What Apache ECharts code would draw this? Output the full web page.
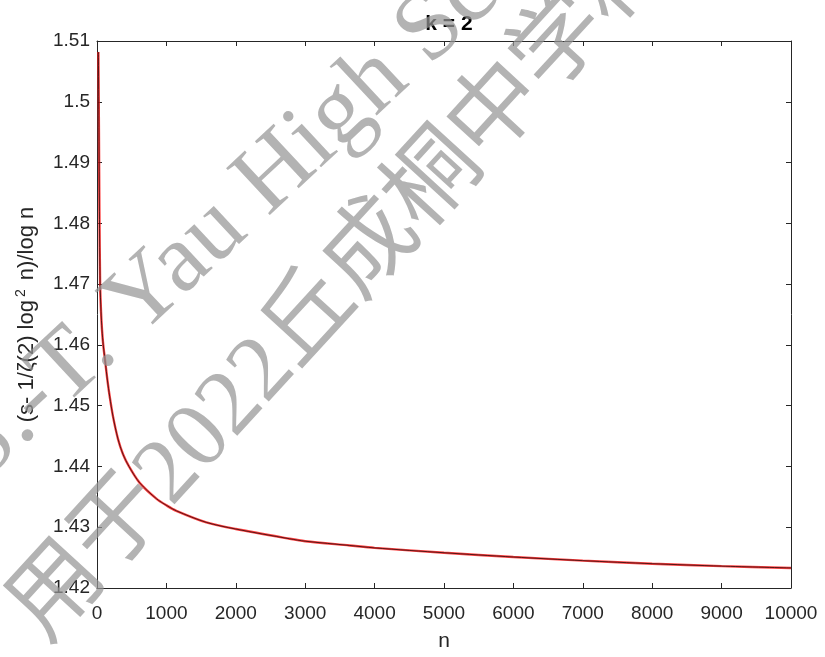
<!DOCTYPE html>
<html>
<head>
<meta charset="utf-8">
<script src="https://cdn.jsdelivr.net/npm/echarts@6/dist/echarts.min.js"></script>
<style>
html,body{margin:0;padding:0;background:#fff;}
#chart{width:825px;height:657px;}
</style>
</head>
<body>
<div id="chart"></div>
<script>
// Data
const nValues = [20, 28, 35, 45, 58, 72, 90, 121, 150, 183, 231, 303, 375, 461, 615, 855, 1000, 1143, 1575, 2000, 2775, 3000, 3640, 4000, 5000, 6000, 7000, 8000, 9000, 10000];
const ratioValues = [1.5082, 1.495, 1.482, 1.470, 1.4655, 1.4625, 1.4600, 1.4570, 1.4542, 1.4515, 1.4482, 1.4445, 1.4420, 1.4400, 1.4373, 1.4347, 1.4336, 1.4327, 1.4308, 1.4297, 1.4281, 1.4277, 1.4270, 1.4266, 1.4258, 1.4251, 1.4245, 1.4240, 1.4236, 1.4233];
const titleText = 'k = 2';
const xName = 'n';
const yName = '(s- 1/\u03b6(2) log{sup|2} n)/log n';
const watermark1 = 'S.-T. Yau High School Science Award';
const watermark2 = '\u7528\u4e8e2022\u4e18\u6210\u6850\u4e2d\u5b66\u79d1\u5b66\u5956';

const seriesData = nValues.map((n, i) => [n, ratioValues[i]]);

const chart = echarts.init(document.getElementById('chart'), null, {renderer: 'canvas'});
const axisColor = '#262626';
const font = "'Liberation Sans', Arial, sans-serif";
const wmFill = 'rgba(150,150,150,0.72)';
const ang = 43 * Math.PI / 180;
const ang2 = 47.5 * Math.PI / 180;

const option = {
  backgroundColor: '#ffffff',
  animation: false,
  title: {
    text: titleText, left: 444, top: 9, textAlign: 'center',
    textStyle: {fontFamily: font, fontSize: 21, fontWeight: 'bold', color: '#000'}
  },
  grid: {left: 97, right: 34, top: 41, bottom: 69, containLabel: false},
  xAxis: [{
    type: 'value', min: 0, max: 10000, interval: 1000,
    name: xName, nameLocation: 'middle', nameGap: 43,
    nameTextStyle: {fontFamily: font, fontSize: 21, color: axisColor},
    axisLine: {show: true, onZero: false, lineStyle: {color: axisColor, width: 1}},
    axisTick: {show: true, inside: true, length: 5, lineStyle: {color: axisColor}},
    axisLabel: {fontFamily: font, fontSize: 19, color: axisColor, margin: 16,
                formatter: v => String(v)},
    splitLine: {show: false}
  }, {
    type: 'value', min: 0, max: 10000, interval: 1000, position: 'top',
    axisLine: {show: true, onZero: false, lineStyle: {color: axisColor, width: 1}},
    axisTick: {show: true, inside: true, length: 5, lineStyle: {color: axisColor}},
    axisLabel: {show: false}, splitLine: {show: false}
  }],
  yAxis: [{
    type: 'value', min: 1.42, max: 1.51, interval: 0.01,
    name: yName, nameLocation: 'middle', nameGap: 57, nameRotate: 90,
    nameTextStyle: {fontFamily: font, fontSize: 22, color: axisColor, lineHeight: 26,
      rich: {sup: {fontFamily: font, fontSize: 14, color: axisColor, verticalAlign: 'top',
                   lineHeight: 14, padding: [0, 3, 0, 3]}}},
    axisLine: {show: true, onZero: false, lineStyle: {color: axisColor, width: 1}},
    axisTick: {show: true, inside: true, length: 5, lineStyle: {color: axisColor}},
    axisLabel: {fontFamily: font, fontSize: 19, color: axisColor, margin: 7},
    splitLine: {show: false}
  }, {
    type: 'value', min: 1.42, max: 1.51, interval: 0.01, position: 'right',
    axisLine: {show: true, onZero: false, lineStyle: {color: axisColor, width: 1}},
    axisTick: {show: true, inside: true, length: 5, lineStyle: {color: axisColor}},
    axisLabel: {show: false}, splitLine: {show: false}
  }],
  series: [{
    type: 'line', data: seriesData, showSymbol: false, smooth: 0.3,
    lineStyle: {color: '#ff2020', width: 2.4, opacity: 0.85}, z: 5, silent: true
  }, {
    type: 'line', data: seriesData, showSymbol: false, smooth: 0.3,
    lineStyle: {color: '#000000', width: 0.9, opacity: 0.75}, z: 6, silent: true
  }],
  graphic: {
    elements: [{
      type: 'text', x: -36, y: 465, rotation: ang, z: 100, silent: true,
      style: {text: watermark1, fill: wmFill, font: "98px 'Liberation Serif', serif",
              textAlign: 'left', textVerticalAlign: 'middle', align: 'left', verticalAlign: 'middle'}
    }, {
      type: 'text', x: 28, y: 628, rotation: ang2, z: 100, silent: true,
      style: {text: watermark2, fill: wmFill, font: "93px 'Liberation Serif', 'Noto Sans CJK SC', serif",
              textAlign: 'left', textVerticalAlign: 'middle', align: 'left', verticalAlign: 'middle'}
    }]
  }
};
chart.setOption(option);
</script>
</body>
</html>
